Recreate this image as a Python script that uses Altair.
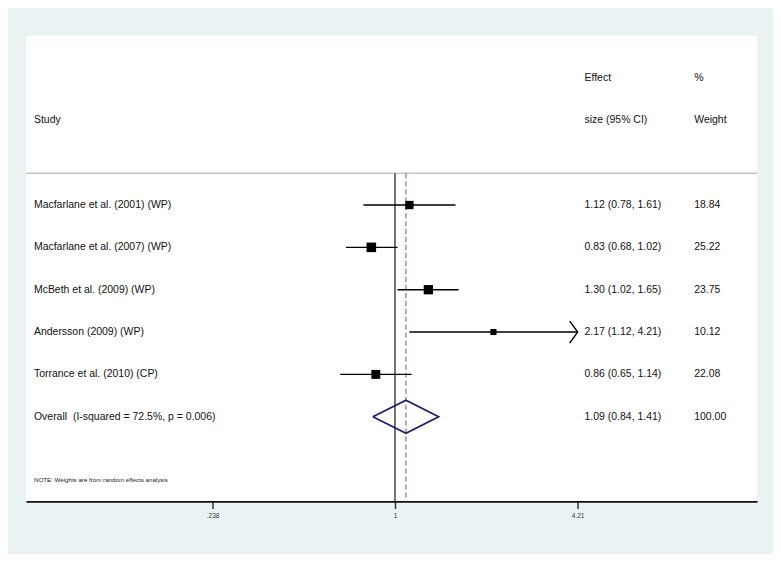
import altair as alt
import pandas as pd

# ---- data ----
studies = [
    "Macfarlane et al. (2001) (WP)",
    "Macfarlane et al. (2007) (WP)",
    "McBeth et al. (2009) (WP)",
    "Andersson (2009) (WP)",
    "Torrance et al. (2010) (CP)",
]
effect = [1.12, 0.83, 1.30, 2.17, 0.86]
ci_low = [0.78, 0.68, 1.02, 1.12, 0.65]
ci_high = [1.61, 1.02, 1.65, 4.21, 1.14]
weight = [18.84, 25.22, 23.75, 10.12, 22.08]

overall_label = "Overall\u00a0 (I-squared = 72.5%, p = 0.006)"
overall_effect = 1.09
overall_low = 0.84
overall_high = 1.41
overall_weight = 100.00

note = "NOTE: Weights are from random effects analysis"
tick_values = [0.238, 1, 4.21]
tick_labels = [".238", "1", "4.21"]

# ---- layout constants ----
FONT = "Liberation Sans"
AX_MIN, AX_MAX = tick_values[0], tick_values[-1]
xscale = alt.Scale(type="log", domain=[0.0548, 17.27], nice=False)
yscale = alt.Scale(domain=[-3, 8], reverse=True, nice=False, zero=False)
DIAMOND_HALF = 0.39
SEP_ROW = 0.25
NOTE_ROW = 7.5

rows = list(range(1, len(studies) + 1))
overall_row = len(studies) + 1

df = pd.DataFrame({
    "study": studies,
    "effect": effect,
    "lo": ci_low,
    "hi": ci_high,
    "hi_clip": [min(h, AX_MAX) for h in ci_high],
    "w": weight,
    "row": rows,
})
df["es_txt"] = [f"{e:.2f} ({l:.2f}, {h:.2f})" for e, l, h in zip(effect, ci_low, ci_high)]
df["w_txt"] = [f"{w:.2f}" for w in weight]

arrows = df[df["hi"] >= AX_MAX]

diamond = pd.DataFrame({
    "x": [overall_low, overall_effect, overall_high, overall_effect, overall_low],
    "y": [overall_row, overall_row - DIAMOND_HALF, overall_row,
          overall_row + DIAMOND_HALF, overall_row],
    "o": [0, 1, 2, 3, 4],
})

label_rows = pd.DataFrame({
    "row": rows + [overall_row],
    "label": studies + [overall_label],
    "es_txt": list(df["es_txt"]) + [f"{overall_effect:.2f} ({overall_low:.2f}, {overall_high:.2f})"],
    "w_txt": list(df["w_txt"]) + [f"{overall_weight:.2f}"],
})

headers = pd.DataFrame({
    "txt": ["Study", "Effect", "size (95% CI)", "%", "Weight"],
    "row": [-1, -2, -1, -2, -1],
    "col": ["study", "es", "es", "w", "w"],
})

COL_X = {"study": 8, "es": 560, "w": 670}

lbl_expr = " : ".join(
    f"datum.value == {v} ? '{l}'" for v, l in zip(tick_values, tick_labels)
) + " : ''"

base = alt.Chart(df)

# separator line
sep = alt.Chart(pd.DataFrame({"y": [SEP_ROW]})).mark_rule(
    color="#c4c4c4", strokeWidth=1.3
).encode(y=alt.Y("y:Q", scale=yscale, axis=None))

# null line (x=1)
null_line = alt.Chart(pd.DataFrame({"x": [1], "y": [SEP_ROW], "y2": [8]})).mark_rule(
    color="#000000", strokeWidth=1.1
).encode(
    x=alt.X("x:Q", scale=xscale,
            axis=alt.Axis(values=tick_values, labelExpr=lbl_expr, title=None,
                          grid=False, domainColor="#111111", domainWidth=1.6,
                          tickColor="#333333", tickWidth=1.5, tickSize=7,
                          labelFontSize=6.5, labelFont=FONT, labelColor="#333333",
                          labelPadding=4, labelFlush=False)),
    y=alt.Y("y:Q", scale=yscale, axis=None),
    y2="y2:Q",
)

# overall effect dashed line
eff_line = alt.Chart(pd.DataFrame({"x": [overall_effect], "y": [SEP_ROW], "y2": [8]})).mark_rule(
    color="#a0566a", strokeWidth=1.1, strokeDash=[5, 3]
).encode(
    x=alt.X("x:Q", scale=xscale),
    y=alt.Y("y:Q", scale=yscale, axis=None),
    y2="y2:Q",
)

ci = base.mark_rule(color="#000000", strokeWidth=1.4).encode(
    x=alt.X("lo:Q", scale=xscale),
    x2="hi_clip:Q",
    y=alt.Y("row:Q", scale=yscale, axis=None),
)

squares = base.mark_square(color="#000000", opacity=1, filled=True).encode(
    x=alt.X("effect:Q", scale=xscale),
    y=alt.Y("row:Q", scale=yscale, axis=None),
    size=alt.Size("w:Q", scale=alt.Scale(domain=[0, max(weight)], range=[0, 92]), legend=None),
)

arrow = alt.Chart(arrows).mark_point(
    shape="M -0.727 -1 L 0 0 L -0.727 1", filled=False, stroke="#000000",
    strokeWidth=1.4, size=484, opacity=1
).encode(
    x=alt.X("hi_clip:Q", scale=xscale),
    y=alt.Y("row:Q", scale=yscale, axis=None),
)

dia = alt.Chart(diamond).mark_line(color="#1c1c6c", strokeWidth=1.7).encode(
    x=alt.X("x:Q", scale=xscale),
    y=alt.Y("y:Q", scale=yscale, axis=None),
    order="o:Q",
)

txt_kw = dict(align="left", baseline="middle", font=FONT, fontSize=10.5, color="#111111")

study_txt = alt.Chart(label_rows).mark_text(**txt_kw).encode(
    x=alt.value(COL_X["study"]),
    y=alt.Y("row:Q", scale=yscale, axis=None),
    text="label:N",
)
es_txt = alt.Chart(label_rows).mark_text(**txt_kw).encode(
    x=alt.value(COL_X["es"]),
    y=alt.Y("row:Q", scale=yscale, axis=None),
    text="es_txt:N",
)
w_txt = alt.Chart(label_rows).mark_text(**txt_kw).encode(
    x=alt.value(COL_X["w"]),
    y=alt.Y("row:Q", scale=yscale, axis=None),
    text="w_txt:N",
)

hdr_layers = []
for col in ["study", "es", "w"]:
    hdr_layers.append(
        alt.Chart(headers[headers["col"] == col]).mark_text(**txt_kw).encode(
            x=alt.value(COL_X[col]),
            y=alt.Y("row:Q", scale=yscale, axis=None),
            text="txt:N",
        )
    )

note_txt = alt.Chart(pd.DataFrame({"row": [NOTE_ROW], "t": [note]})).mark_text(
    align="left", baseline="middle", font=FONT, fontSize=6.2, color="#222222"
).encode(
    x=alt.value(COL_X["study"]),
    y=alt.Y("row:Q", scale=yscale, axis=None),
    text="t:N",
)

chart = alt.layer(
    sep, null_line, eff_line, ci, squares, arrow, dia,
    study_txt, es_txt, w_txt, *hdr_layers, note_txt
).properties(
    width=733,
    height=467,
    padding={"left": 18, "top": 27, "right": 16, "bottom": 52},
    autosize=alt.AutoSizeParams(type="none"),
    background="#eaf2f3",
).configure_view(
    fill="#ffffff", stroke=None
)

chart.save("out.html", embed_options={"renderer": "svg", "actions": False})
